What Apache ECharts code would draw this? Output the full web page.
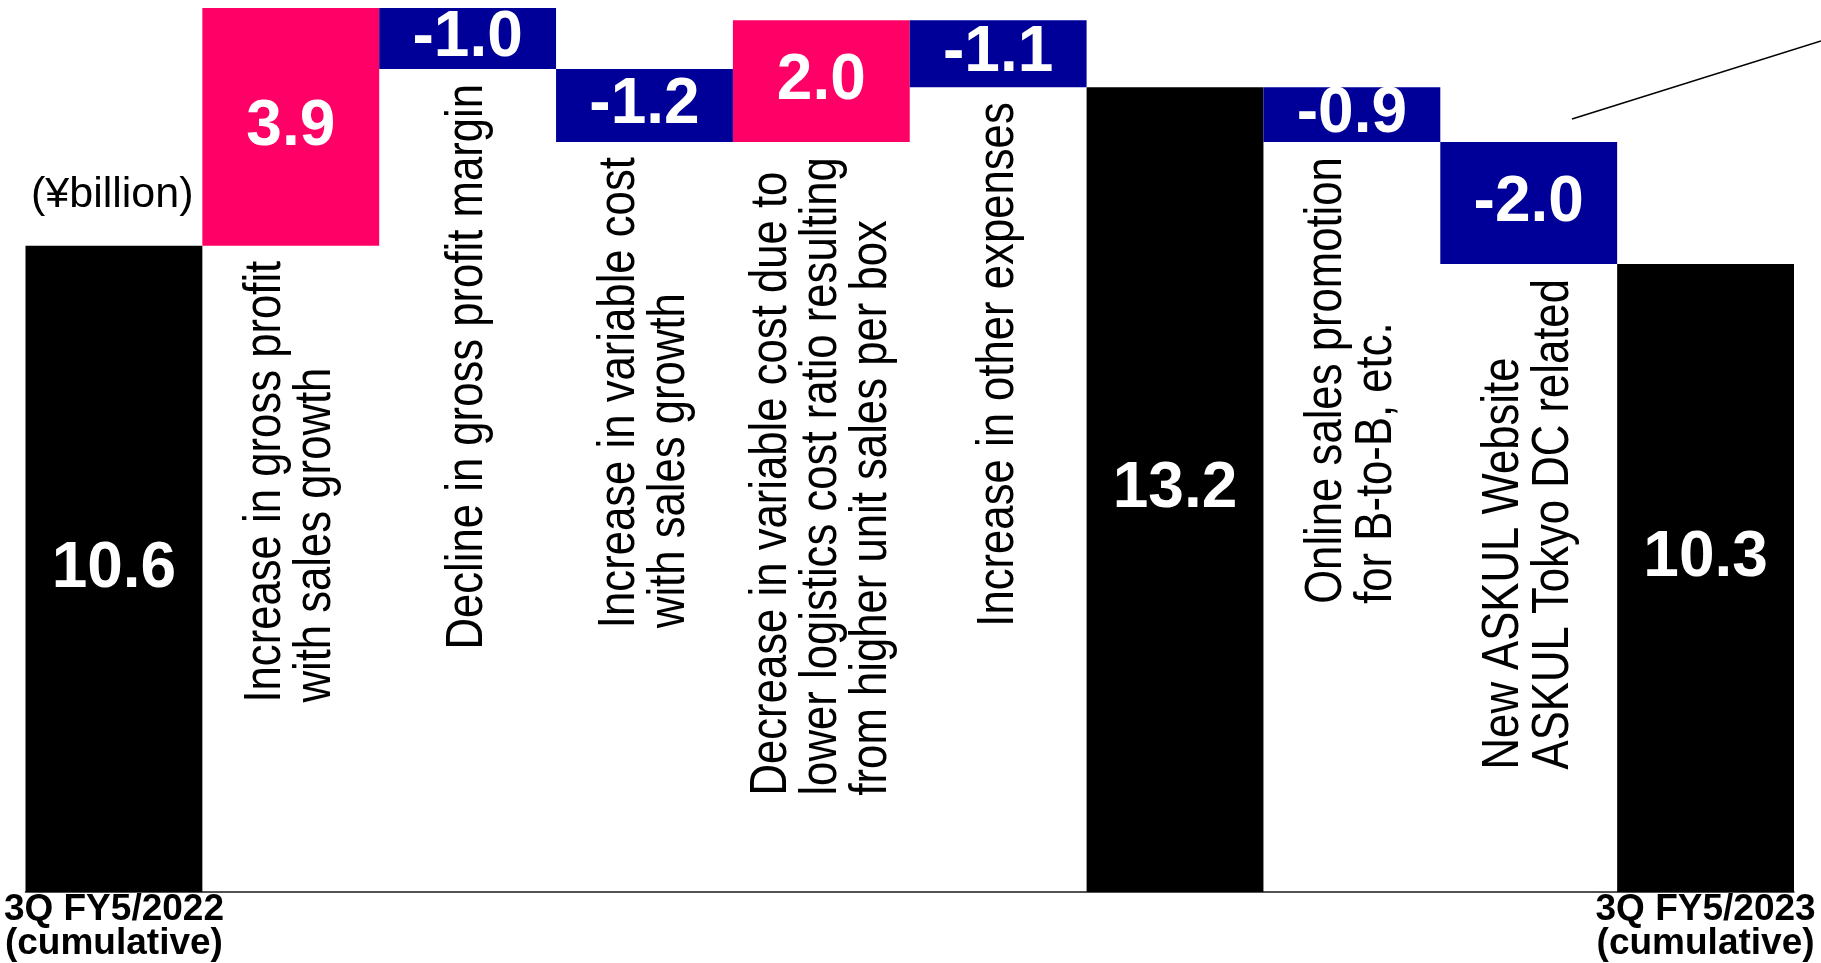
<!DOCTYPE html>
<html>
<head>
<meta charset="utf-8">
<title>Operating income bridge</title>
<script src="https://cdn.jsdelivr.net/npm/echarts@6/dist/echarts.min.js"></script>
<style>
  html, body { margin: 0; padding: 0; background: #ffffff; }
  #chart { width: 1821px; height: 963px; }
</style>
</head>
<body>
<div id="chart"></div>
<script>
// Bottom axis labels (only the two period totals carry one)
const axisLabels = [
  '3Q FY5/2022\n(cumulative)', '', '', '', '', '', '', '', '', '3Q FY5/2023\n(cumulative)'
];
// Kind of each step: period totals vs. changes
const kinds = ['total', 'delta', 'delta', 'delta', 'delta', 'delta', 'total', 'delta', 'delta', 'total'];
// Values in ¥billion (totals as levels, changes as signed amounts)
const values = [10.6, 3.9, -1.0, -1.2, 2.0, -1.1, 13.2, -0.9, -2.0, 10.3];
// Descriptions written under each change
const descriptions = [
  '',
  'Increase in gross profit\nwith sales growth',
  'Decline in gross profit margin',
  'Increase in variable cost\nwith sales growth',
  'Decrease in variable cost due to\nlower logistics cost ratio resulting\nfrom higher unit sales per box',
  'Increase in other expenses',
  '',
  'Online sales promotion\nfor B-to-B, etc.',
  'New ASKUL Website\nASKUL Tokyo DC related',
  ''
];
const unitLabel = '(¥billion)';

// Build the stacked waterfall pieces
const baseData = [], incData = [], decData = [], totalData = [], noteData = [];
let running = 0;
values.forEach((v, i) => {
  if (kinds[i] === 'total') {
    running = v;
    baseData.push(0); incData.push('-'); decData.push('-'); totalData.push(v);
  } else if (v >= 0) {
    baseData.push(+running.toFixed(2)); incData.push(v); decData.push('-'); totalData.push('-');
    noteData.push([i, +running.toFixed(2)]);
    running += v;
  } else {
    running += v;
    baseData.push(+running.toFixed(2)); incData.push('-'); decData.push(-v); totalData.push('-');
    noteData.push([i, +running.toFixed(2)]);
  }
});

const SANS = "'Liberation Sans', Arial, Helvetica, sans-serif";

const valueLabel = {
  show: true,
  position: 'inside',
  color: '#ffffff',
  fontFamily: SANS,
  fontWeight: 'bold',
  fontSize: 64,
  formatter: p => values[p.dataIndex].toFixed(1)
};

// Closing total's figure sits a little above the bar's middle
const totalSeriesData = totalData.map((v, i) =>
  i === values.length - 1 ? { value: v, label: { offset: [0, -20] } } : v
);

// Vertical, condensed description text hanging under each change bar
function renderNote(params, api) {
  const idx = api.value(0);
  const pt = api.coord([idx, api.value(1)]);
  const text = descriptions[idx].split('\n').map(s => '{t|' + s + '}').join('\n');
  return {
    type: 'text',
    x: pt[0],
    y: pt[1] + 15,
    rotation: Math.PI / 2,
    scaleX: 0.84,
    style: {
      text: text,
      align: 'right',
      verticalAlign: 'middle',
      fill: '#000000',
      fontFamily: SANS,
      fontSize: 52,
      lineHeight: 50,
      rich: {
        t: { align: 'left', fill: '#000000', fontFamily: SANS, fontSize: 52, lineHeight: 50 }
      }
    }
  };
}

const chart = echarts.init(document.getElementById('chart'), null, { renderer: 'canvas' });
chart.setOption({
  animation: false,
  backgroundColor: '#ffffff',
  title: {
    text: unitLabel,
    left: 31,
    top: 174,
    padding: 0,
    textStyle: { fontFamily: SANS, fontWeight: 'normal', fontSize: 43, color: '#000000' }
  },
  grid: { left: 25.5, right: 27, top: 8, bottom: 71, containLabel: false },
  xAxis: {
    type: 'category',
    data: axisLabels,
    axisTick: { show: false },
    axisLine: { show: true, lineStyle: { color: '#1a1a1a', width: 1.5 } },
    axisLabel: {
      interval: 0,
      margin: 1,
      color: '#000000',
      fontFamily: SANS,
      fontWeight: 'bold',
      fontSize: 37,
      lineHeight: 34
    },
    splitLine: { show: false }
  },
  yAxis: {
    type: 'value',
    min: 0,
    max: 14.5,
    show: false,
    splitLine: { show: false }
  },
  series: [
    {
      name: 'base',
      type: 'bar',
      stack: 'bridge',
      barCategoryGap: '0%',
      itemStyle: { color: 'rgba(0,0,0,0)' },
      emphasis: { disabled: true },
      data: baseData
    },
    {
      name: 'total',
      type: 'bar',
      stack: 'bridge',
      itemStyle: { color: '#000000' },
      label: valueLabel,
      data: totalSeriesData
    },
    {
      name: 'increase',
      type: 'bar',
      stack: 'bridge',
      itemStyle: { color: '#ff0066' },
      label: valueLabel,
      data: incData
    },
    {
      name: 'decrease',
      type: 'bar',
      stack: 'bridge',
      itemStyle: { color: '#000099' },
      label: valueLabel,
      data: decData
    },
    {
      name: 'notes',
      type: 'custom',
      coordinateSystem: 'cartesian2d',
      encode: { x: 0, y: 1 },
      renderItem: renderNote,
      silent: true,
      z: 5,
      data: noteData
    }
  ],
  graphic: [
    {
      type: 'line',
      shape: { x1: 1572, y1: 119, x2: 1821, y2: 41 },
      style: { stroke: '#000000', lineWidth: 1.5 },
      silent: true
    }
  ]
});
</script>
</body>
</html>
